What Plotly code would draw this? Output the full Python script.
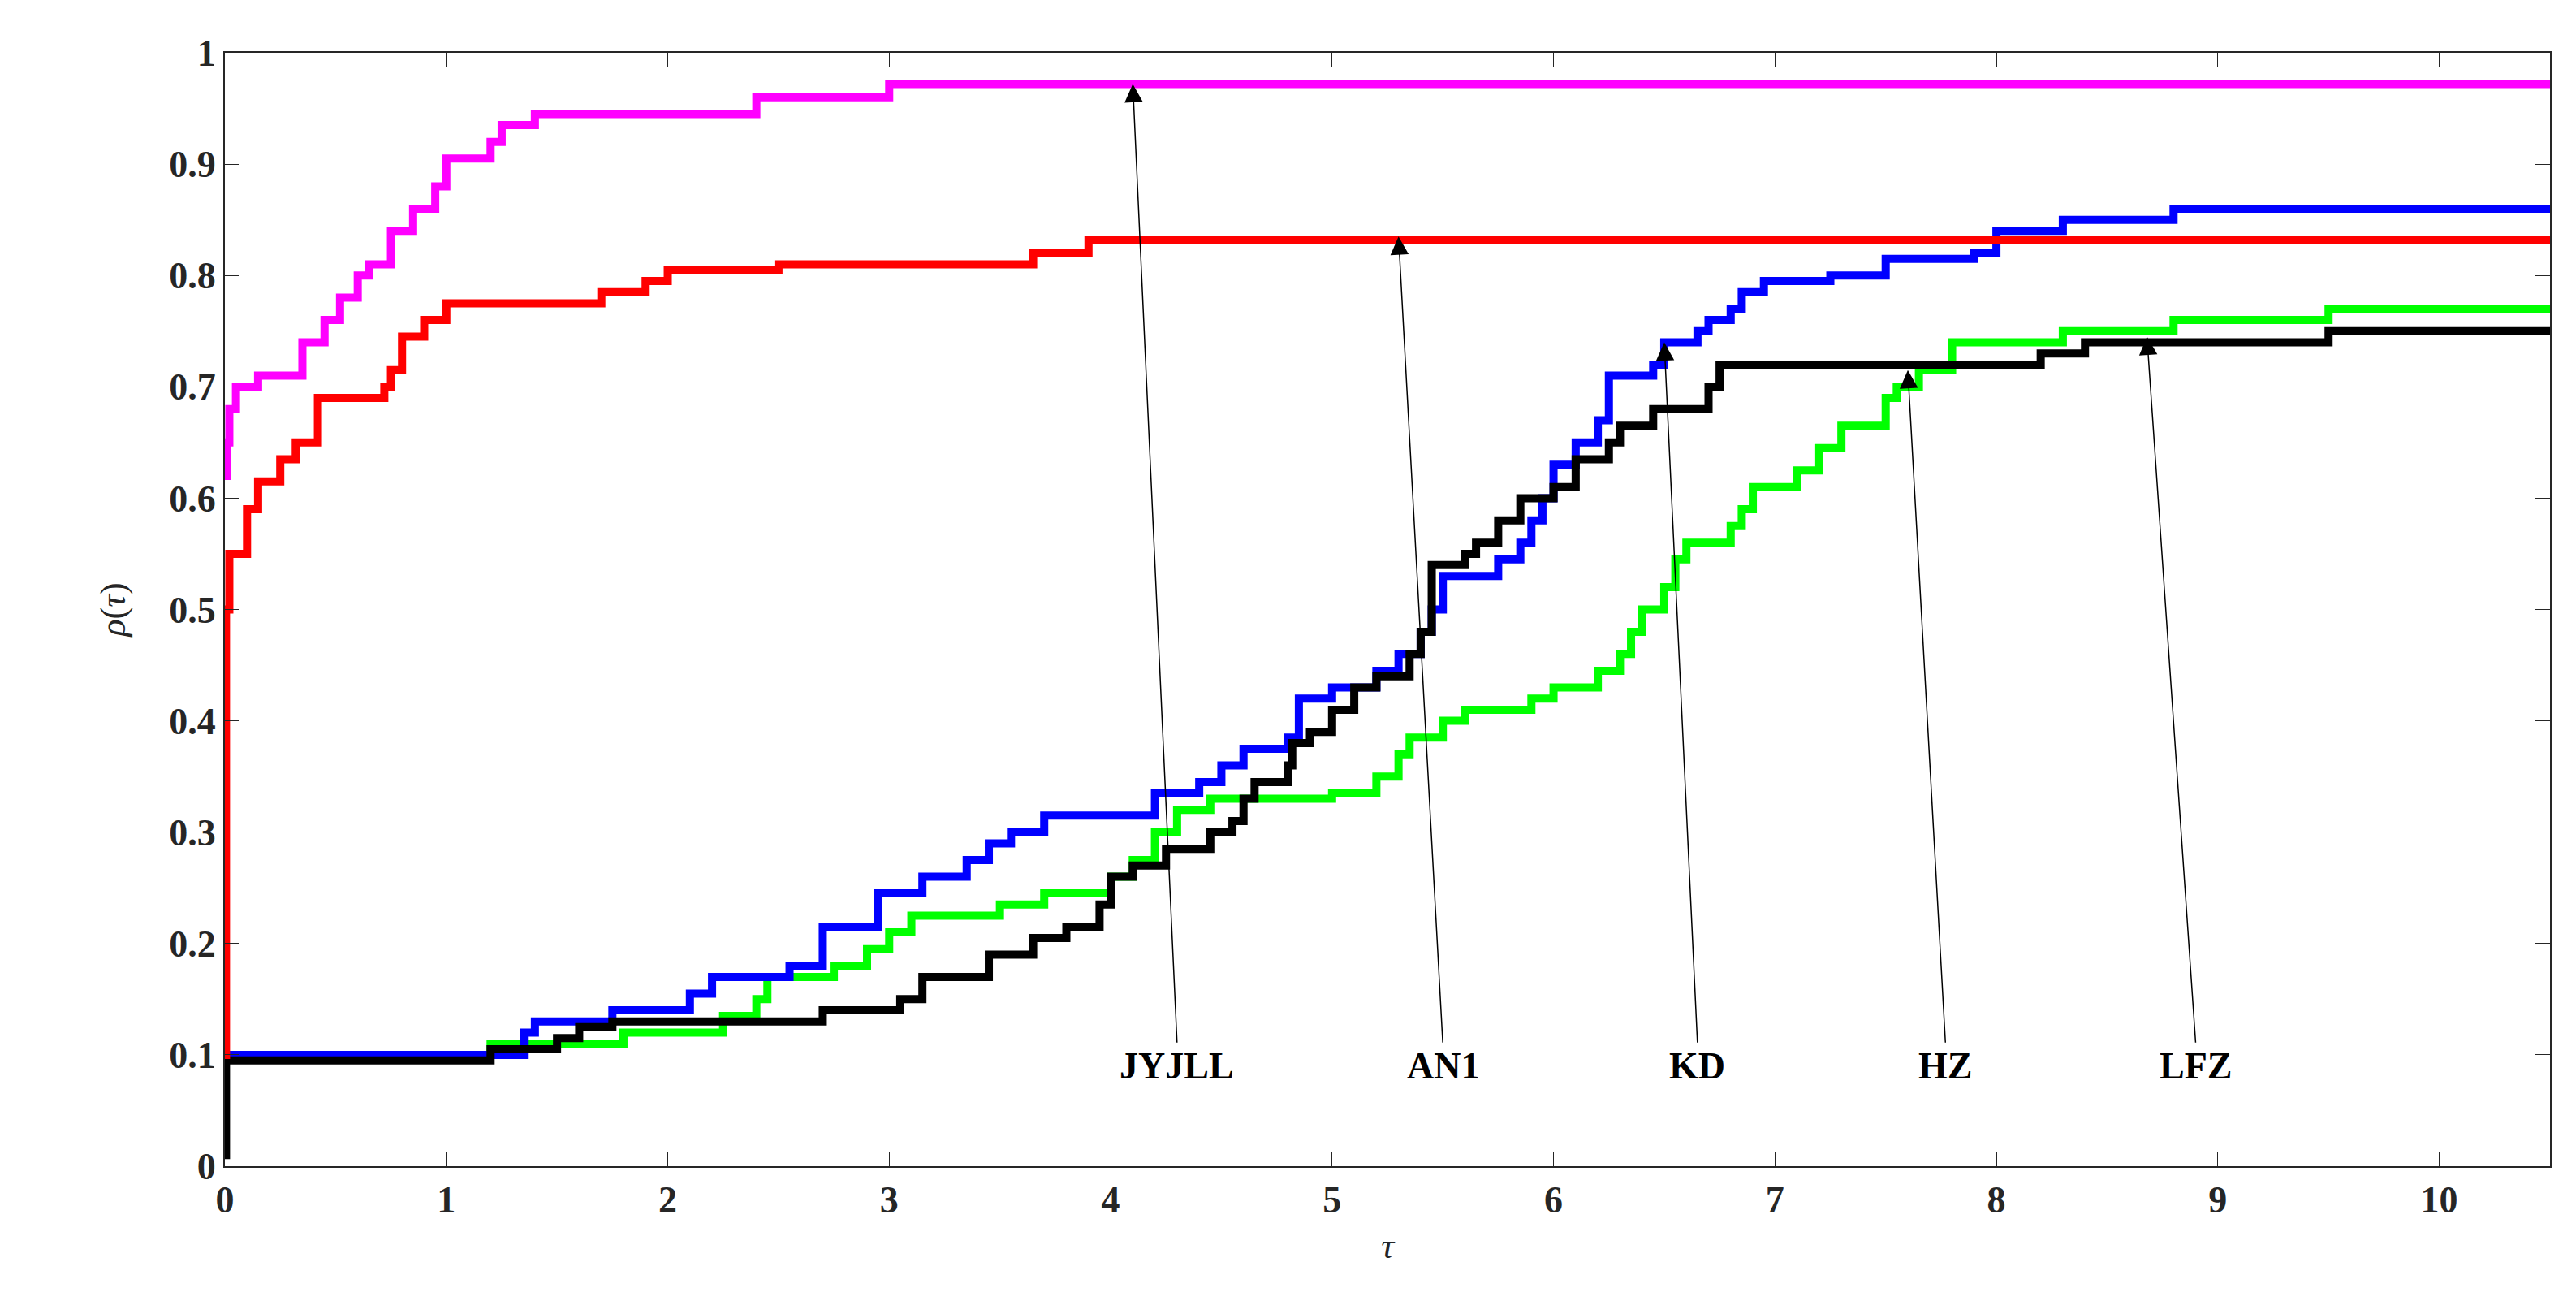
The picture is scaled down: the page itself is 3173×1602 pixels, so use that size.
import plotly.graph_objects as go

# step profiles (tau, rho)
magenta_x = [0, 0.01, 0.02, 0.05, 0.15, 0.35, 0.45, 0.52, 0.6, 0.65, 0.75, 0.85, 0.95, 1.0, 1.2, 1.25, 1.4, 2.4, 3.0, 10.5]
magenta_y = [0.62, 0.65, 0.68, 0.70, 0.71, 0.74, 0.76, 0.78, 0.80, 0.81, 0.84, 0.86, 0.88, 0.905, 0.92, 0.935, 0.945, 0.96, 0.972, 0.972]

red_x = [0, 0.005, 0.02, 0.1, 0.15, 0.25, 0.32, 0.42, 0.72, 0.75, 0.8, 0.9, 1.0, 1.7, 1.9, 2.0, 2.5, 3.65, 3.9, 10.5]
red_y = [0.10, 0.50, 0.55, 0.59, 0.615, 0.635, 0.65, 0.69, 0.70, 0.715, 0.745, 0.76, 0.775, 0.785, 0.795, 0.805, 0.81, 0.82, 0.832, 0.832]

blue_x = [0, 1.35, 1.4, 1.75, 2.1, 2.2, 2.55, 2.7, 2.95, 3.15, 3.35, 3.45, 3.55, 3.7, 4.2, 4.4, 4.5, 4.6, 4.8,
          4.85, 5.0, 5.2, 5.3, 5.4, 5.45, 5.5, 5.75, 5.85, 5.9, 5.95, 6.0, 6.1, 6.2, 6.25, 6.45, 6.5, 6.65,
          6.7, 6.8, 6.85, 6.95, 7.25, 7.5, 7.9, 8.0, 8.3, 8.8, 10.5]
blue_y = [0.10, 0.12, 0.13, 0.14, 0.155, 0.17, 0.18, 0.215, 0.245, 0.26, 0.275, 0.29, 0.30, 0.315, 0.335, 0.345,
          0.36, 0.375, 0.385, 0.42, 0.43, 0.445, 0.46, 0.48, 0.50, 0.53, 0.545, 0.56, 0.58, 0.60, 0.63, 0.65,
          0.67, 0.71, 0.72, 0.74, 0.75, 0.76, 0.77, 0.785, 0.795, 0.80, 0.815, 0.82, 0.84, 0.85, 0.86, 0.86]

green_x = [0.6, 1.2, 1.8, 2.25, 2.4, 2.45, 2.75, 2.9, 3.0, 3.1, 3.5, 3.7, 4.0, 4.1, 4.2, 4.3, 4.45, 5.0, 5.2,
           5.3, 5.35, 5.5, 5.6, 5.9, 6.0, 6.2, 6.3, 6.35, 6.4, 6.5, 6.55, 6.6, 6.8, 6.85, 6.9, 7.1, 7.2, 7.3,
           7.5, 7.55, 7.65, 7.8, 8.3, 8.8, 9.5, 10.5]
green_y = [0.10, 0.11, 0.12, 0.135, 0.15, 0.17, 0.18, 0.195, 0.21, 0.225, 0.235, 0.245, 0.26, 0.275, 0.30, 0.32,
           0.33, 0.335, 0.35, 0.37, 0.385, 0.40, 0.41, 0.42, 0.43, 0.445, 0.46, 0.48, 0.50, 0.52, 0.545, 0.56,
           0.575, 0.59, 0.61, 0.625, 0.645, 0.665, 0.69, 0.70, 0.715, 0.74, 0.75, 0.76, 0.77, 0.77]

black_x = [0, 0.005, 1.2, 1.5, 1.6, 1.75, 2.7, 3.05, 3.15, 3.45, 3.65, 3.8, 3.95, 4.0, 4.1, 4.25, 4.45, 4.55,
           4.6, 4.65, 4.8, 4.82, 4.9, 5.0, 5.1, 5.2, 5.35, 5.4, 5.45, 5.6, 5.65, 5.75, 5.85, 6.0, 6.1, 6.25,
           6.3, 6.45, 6.7, 6.75, 8.2, 8.4, 9.5, 10.5]
black_y = [0.01, 0.095, 0.105, 0.115, 0.125, 0.13, 0.14, 0.15, 0.17, 0.19, 0.205, 0.215, 0.235, 0.26, 0.27,
           0.285, 0.30, 0.31, 0.33, 0.345, 0.36, 0.38, 0.39, 0.41, 0.43, 0.44, 0.46, 0.48, 0.54, 0.55, 0.56,
           0.58, 0.60, 0.61, 0.635, 0.65, 0.665, 0.68, 0.70, 0.72, 0.73, 0.74, 0.75, 0.75]

labels = ["JYJLL", "AN1", "KD", "HZ", "LFZ"]
label_x = [4.3, 5.5, 6.65, 7.77, 8.9]
label_y = [0.11, 0.11, 0.11, 0.11, 0.11]
head_x = [4.1, 5.3, 6.5, 7.6, 8.68]
head_y = [0.972, 0.835, 0.74, 0.715, 0.745]

FONT = "Liberation Serif"

fig = go.Figure()
for xs, ys, col in [(green_x, green_y, "#00ff00"), (blue_x, blue_y, "#0000ff"),
                    (black_x, black_y, "#000000"), (red_x, red_y, "#ff0000"),
                    (magenta_x, magenta_y, "#ff00ff")]:
    fig.add_trace(go.Scatter(x=xs, y=ys, mode="lines", line=dict(color=col, width=10, shape="hv"),
                             showlegend=False, hoverinfo="skip"))

for t, lx, ly, hx, hy in zip(labels, label_x, label_y, head_x, head_y):
    fig.add_annotation(x=hx, y=hy, ax=lx, ay=ly, xref="x", yref="y", axref="x", ayref="y",
                       showarrow=True, arrowhead=2, arrowsize=3, arrowwidth=1.5, arrowcolor="black",
                       text="", standoff=0)
    fig.add_annotation(x=lx, y=ly, xref="x", yref="y", text="<b>" + t + "</b>", showarrow=False,
                       yanchor="top", font=dict(family=FONT, size=46, color="black"))

axis = dict(showgrid=False, zeroline=False, showline=True, linecolor="#262626", linewidth=2,
            mirror="ticks", ticks="inside", ticklen=18, tickcolor="#262626",
            tickfont=dict(family=FONT, size=46, color="#262626"))
fig.update_xaxes(axis, range=[0, 10.5], tickvals=list(range(11)), ticktext=["<b>%d</b>" % i for i in range(11)],
                 title=dict(text="<i>τ</i>", font=dict(family=FONT, size=44, color="#262626"), standoff=16))
yt = [i / 10 for i in range(11)]
fig.update_yaxes(axis, range=[0, 1], tickvals=yt,
                 ticktext=["<b>%g</b>" % v for v in yt],
                 title=dict(text="<i>ρ</i>(<i>τ</i>)", font=dict(family=FONT, size=44, color="#262626"), standoff=40))
fig.update_layout(width=3173, height=1602, plot_bgcolor="white", paper_bgcolor="white",
                  margin=dict(l=269, r=40, t=57, b=174))
fig.write_html("out.html")
